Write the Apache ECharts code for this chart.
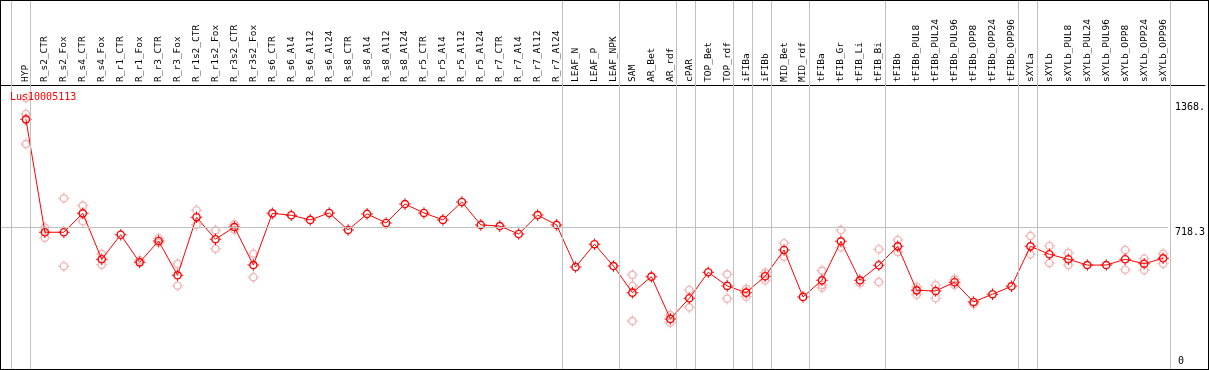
<!DOCTYPE html>
<html>
<head>
<meta charset="utf-8">
<script src="https://cdn.jsdelivr.net/npm/echarts@6.0.0/dist/echarts.min.js"></script>
<style>
  html, body { margin: 0; padding: 0; background: #fff; }
  #frame { width: 1209px; height: 370px; box-sizing: border-box; border: 1px solid #000; }
  #chart { width: 1207px; height: 368px; }
</style>
</head>
<body>
<div id="frame"><div id="chart"></div></div>
<script>
const geneId = 'Lus10005113'

const categories = [
  'HYP', 'R_s2_CTR', 'R_s2_Fox', 'R_s4_CTR', 'R_s4_Fox', 'R_r1_CTR', 'R_r1_Fox', 'R_r3_CTR', 'R_r3_Fox',
  'R_r1s2_CTR', 'R_r1s2_Fox', 'R_r3s2_CTR', 'R_r3s2_Fox', 'R_s6_CTR', 'R_s6_Al4', 'R_s6_Al12', 'R_s6_Al24',
  'R_s8_CTR', 'R_s8_Al4', 'R_s8_Al12', 'R_s8_Al24', 'R_r5_CTR', 'R_r5_Al4', 'R_r5_Al12', 'R_r5_Al24',
  'R_r7_CTR', 'R_r7_Al4', 'R_r7_Al12', 'R_r7_Al24', 'LEAF_N', 'LEAF_P', 'LEAF_NPK', 'SAM', 'AR_Bet', 'AR_rdf',
  'cPAR', 'TOP_Bet', 'TOP_rdf', 'iFIBa', 'iFIBb', 'MID_Bet', 'MID_rdf', 'tFIBa', 'tFIB_Gr', 'tFIB_Li', 'tFIB_Bi',
  'tFIBb', 'tFIBb_PUL8', 'tFIBb_PUL24', 'tFIBb_PUL96', 'tFIBb_OPP8', 'tFIBb_OPP24', 'tFIBb_OPP96',
  'sXYLa', 'sXYLb', 'sXYLb_PUL8', 'sXYLb_PUL24', 'sXYLb_PUL96', 'sXYLb_OPP8', 'sXYLb_OPP24', 'sXYLb_OPP96'
]

const meanValues = [
  1278, 693, 693, 791, 553, 680, 537, 648, 470,
  771, 657, 720, 523, 791, 781, 757, 793,
  705, 788, 741, 839, 793, 757, 850, 731,
  725, 684, 782, 731, 513, 631, 518, 380, 463, 244,
  351, 486, 415, 380, 465, 601, 358, 444, 646, 444, 522,
  620, 392, 389, 434, 332, 372, 413,
  620, 579, 553, 523, 523, 553, 530, 558
]

// replicate samples (pale circles), null where none is visible
const repA = [
  1389, 717, 869, 831, 580, null, 548, 662, 529,
  807, 703, 734, 582, null, null, null, null,
  null, null, null, null, null, null, null, null,
  null, null, null, null, null, null, null, 472, null, 264,
  394, null, 475, 399, 483, 636, null, 494, 705, 429, 605,
  653, 411, 420, 449, 321, null, null,
  674, 622, 586, null, null, 601, 556, 582
]
const repB = [
  1306, 665, 517, 750, 525, null, null, 639, 416,
  732, 608, 706, 460, null, null, null, null,
  null, null, null, null, null, null, null, null,
  null, null, null, null, null, null, null, 416, null, 224,
  304, null, 349, 359, 444, 566, null, 420, 615, null, 435,
  591, 369, 351, 420, null, null, null,
  579, 534, 523, null, null, 499, 497, 530
]
const repC = categories.map((c, i) => ({ 0: 1150, 32: 233, 42: 406 })[i] ?? null)

const yTickValues = [718.3, 1368]
const yTickLabels = ['718.3', '1368.']
const yZeroLabel = '0'
const refLineValue = 718.3

// last category index of each sample group (gray separators)
const groupEnds = [0, 28, 31, 34, 35, 37, 38, 39, 41, 45, 52, 53, 60]

const chart = echarts.init(document.getElementById('chart'))

const step = 19
const firstX = 25
const chartW = 1207
const xMin = -firstX / step
const xMax = xMin + chartW / step
const separators = [-0.79].concat(groupEnds.map(i => i + 0.24))

const mono = 'DejaVu Sans Mono'

// ring with four small ticks, like the original markers
const ring = 'path://M0,-4.3A4.3,4.3 0 1,1 0,4.3A4.3,4.3 0 1,1 0,-4.3Z' +
  'M0,-2.9A2.9,2.9 0 1,0 0,2.9A2.9,2.9 0 1,0 0,-2.9Z' +
  'M-0.5,-5.8h1v1.5h-1Z M-0.5,4.3h1v1.5h-1Z M-5.8,-0.5v1h1.5v-1Z M4.3,-0.5h1.5v1h-1.5Z'

const repData = []
;[repA, repB, repC].forEach(arr => {
  arr.forEach((v, i) => { if (v != null) repData.push([i, v]) })
})

const option = {
  animation: false,
  title: {
    text: geneId,
    left: 9,
    top: 91,
    padding: 0,
    textStyle: { color: '#ff0000', fontFamily: mono, fontSize: 10, fontWeight: 'normal' }
  },
  grid: [
    { left: 0, right: 0, top: 84, bottom: 3 },
    { left: 0, right: 0, top: 0, bottom: 0 }
  ],
  xAxis: [
    {
      type: 'value',
      gridIndex: 0,
      position: 'top',
      min: xMin,
      max: xMax,
      axisLine: { show: true, onZero: false, lineStyle: { color: '#000', width: 1 } },
      axisTick: { show: false },
      splitLine: { show: false },
      axisLabel: {
        customValues: categories.map((c, i) => i),
        formatter: v => categories[Math.round(v)] || '',
        rotate: -90,
        margin: 3,
        color: '#000',
        fontFamily: mono,
        fontSize: 9.5
      }
    },
    {
      type: 'value',
      gridIndex: 1,
      min: xMin,
      max: xMax,
      show: false
    }
  ],
  yAxis: [
    {
      type: 'value',
      gridIndex: 0,
      position: 'right',
      min: 0,
      max: 1456,
      axisLine: { show: false },
      axisTick: { show: false },
      splitLine: { show: false },
      axisLabel: {
        inside: true,
        customValues: yTickValues,
        formatter: v => yTickLabels[yTickValues.indexOf(v)] || '',
        verticalAlign: 'top',
        margin: 0,
        color: '#000',
        fontFamily: mono,
        fontSize: 10
      }
    },
    {
      type: 'value',
      gridIndex: 0,
      position: 'right',
      min: 0,
      max: 1456,
      axisLine: { show: false },
      axisTick: { show: false },
      splitLine: { show: false },
      axisLabel: {
        inside: true,
        customValues: [0],
        formatter: () => yZeroLabel,
        verticalAlign: 'bottom',
        margin: 21,
        color: '#000',
        fontFamily: mono,
        fontSize: 10
      }
    },
    { type: 'value', gridIndex: 1, min: 0, max: 1, show: false }
  ],
  series: [
    {
      type: 'line',
      xAxisIndex: 1,
      yAxisIndex: 2,
      data: [[xMin, 0]],
      symbol: 'none',
      silent: true,
      z: 1,
      markLine: {
        silent: true,
        symbol: 'none',
        label: { show: false },
        lineStyle: { color: '#c0c0c0', width: 1, type: 'solid' },
        data: separators.map(v => ({ xAxis: v }))
      }
    },
    {
      name: 'replicates',
      type: 'scatter',
      xAxisIndex: 0,
      yAxisIndex: 0,
      data: repData,
      symbol: ring,
      symbolSize: 11.6,
      symbolKeepAspect: true,
      itemStyle: { color: '#f0a0a0' },
      z: 2,
      markLine: {
        silent: true,
        symbol: 'none',
        label: { show: false },
        lineStyle: { color: '#c0c0c0', width: 1, type: 'solid' },
        data: [[{ coord: [xMin, refLineValue] }, { coord: [60.24, refLineValue] }]]
      }
    },
    {
      name: 'mean',
      type: 'line',
      xAxisIndex: 0,
      yAxisIndex: 0,
      data: meanValues.map((v, i) => [i, v]),
      symbol: ring,
      symbolSize: 11.6,
      symbolKeepAspect: true,
      showAllSymbol: true,
      lineStyle: { color: '#ff0000', width: 1 },
      itemStyle: { color: '#ff0000' },
      z: 3
    }
  ]
}

chart.setOption(option)
</script>
</body>
</html>
